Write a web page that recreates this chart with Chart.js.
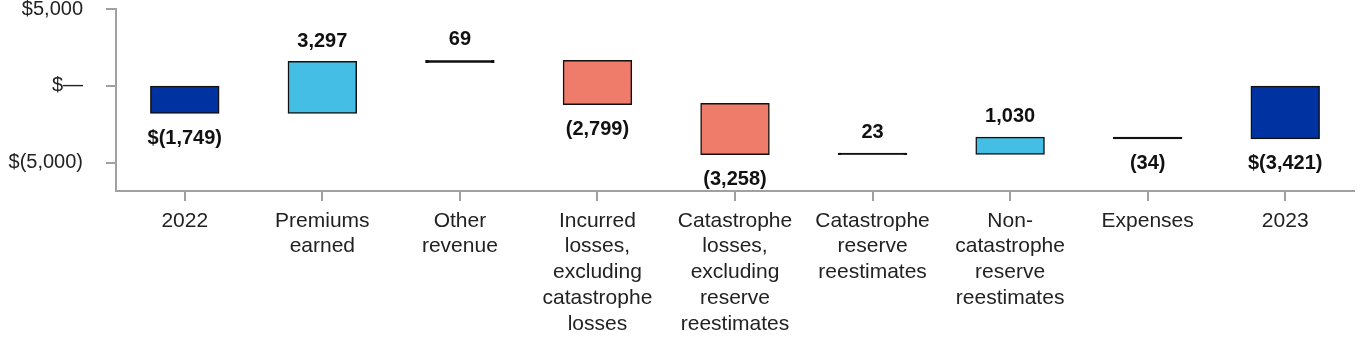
<!DOCTYPE html>
<html>
<head>
<meta charset="utf-8">
<script src="https://cdn.jsdelivr.net/npm/chart.js@4.4.1/dist/chart.umd.min.js"></script>
<style>
  html, body { margin: 0; padding: 0; background: #fff; }
  #wrap { width: 1364px; height: 344px; position: relative; }
</style>
</head>
<body>
<div id="wrap"><canvas id="grafica"></canvas></div>
<script>
// datos del gráfico de cascada
const categorias = [
  "2022",
  ["Premiums", "earned"],
  ["Other", "revenue"],
  ["Incurred", "losses,", "excluding", "catastrophe", "losses"],
  ["Catastrophe", "losses,", "excluding", "reserve", "reestimates"],
  ["Catastrophe", "reserve", "reestimates"],
  ["Non-", "catastrophe", "reserve", "reestimates"],
  "Expenses",
  "2023"
];
const cambios = [-1749, 3297, 69, -2799, -3258, 23, 1030, -34, -3421];
const esTotal = [true, false, false, false, false, false, false, false, true];
const colores = ["#0033a1", "#45bee6", "#45bee6", "#ef7b6a", "#ef7b6a", "#45bee6", "#45bee6", "#ef7b6a", "#0033a1"];
const ticksY = [-5000, 0, 5000];

// barras flotantes: totales desde 0, cambios acumulados
let acumulado = 0;
const barras = cambios.map((v, i) => {
  if (esTotal[i]) {
    acumulado = v;
    return [0, v];
  }
  const inicio = acumulado;
  acumulado += v;
  return [inicio, acumulado];
});

const fmt = n => Math.abs(n).toLocaleString("en-US");
const etiqueta = (v, i) => {
  const s = v < 0 ? "(" + fmt(v) + ")" : fmt(v);
  return esTotal[i] ? "$" + s : s;
};

const FUENTE = "'Liberation Sans', Arial, Helvetica, sans-serif";
const BORDE = "#111";

const etiquetasPlugin = {
  id: "etiquetas",
  afterDatasetsDraw(chart) {
    const ctx = chart.ctx;
    const meta = chart.getDatasetMeta(0);
    ctx.save();
    ctx.font = "bold 20px " + FUENTE;
    ctx.fillStyle = "#111";
    ctx.textAlign = "center";
    ctx.textBaseline = "middle";
    meta.data.forEach((bar, i) => {
      const top = Math.min(bar.y, bar.base);
      const bottom = Math.max(bar.y, bar.base);
      const v = cambios[i];
      const y = v >= 0 ? top - 21 : bottom + 25.5;
      ctx.fillText(etiqueta(v, i), bar.x, y);
    });
    ctx.restore();
  }
};

new Chart(document.getElementById("grafica"), {
  type: "bar",
  data: {
    labels: categorias,
    datasets: [{
      data: barras,
      // barras muy pequeñas se ven como una línea negra
      backgroundColor: c => Math.abs(cambios[c.dataIndex]) < 200 ? BORDE : colores[c.dataIndex],
      borderColor: BORDE,
      borderWidth: 1.5,
      borderSkipped: false,
      inflateAmount: 1,
      barPercentage: 0.49,
      categoryPercentage: 1
    }]
  },
  options: {
    responsive: true,
    maintainAspectRatio: false,
    animation: false,
    layout: { padding: { top: 0, right: 10, left: 0, bottom: 0 } },
    plugins: {
      legend: { display: false },
      tooltip: { enabled: false }
    },
    scales: {
      x: {
        grid: {
          offset: false,
          drawOnChartArea: false,
          drawTicks: true,
          tickLength: 10,
          color: "#a0a0a0",
          lineWidth: 2
        },
        border: { color: "#a0a0a0", width: 2 },
        ticks: {
          color: "#222",
          padding: 7,
          maxRotation: 0,
          autoSkip: false,
          font: { family: FUENTE, size: 21, lineHeight: 1.225 }
        },
        afterFit: scale => { scale.height = 153; }
      },
      y: {
        min: -6850,
        max: 5000,
        grid: {
          drawOnChartArea: false,
          drawTicks: true,
          tickLength: 10,
          color: "#a0a0a0",
          lineWidth: 2
        },
        border: { color: "#a0a0a0", width: 2 },
        afterBuildTicks: axis => { axis.ticks = ticksY.map(v => ({ value: v })); },
        afterFit: scale => {
          scale.width = 116;
          scale.paddingTop = 9;
          scale.paddingBottom = 0;
        },
        ticks: {
          color: "#222",
          padding: 23,
          font: { family: FUENTE, size: 20, lineHeight: 0.9 },
          callback: v => v === 0 ? "$\u2014" : (v < 0 ? "$(" + fmt(v) + ")" : "$" + fmt(v))
        }
      }
    }
  },
  plugins: [etiquetasPlugin]
});
</script>
</body>
</html>
